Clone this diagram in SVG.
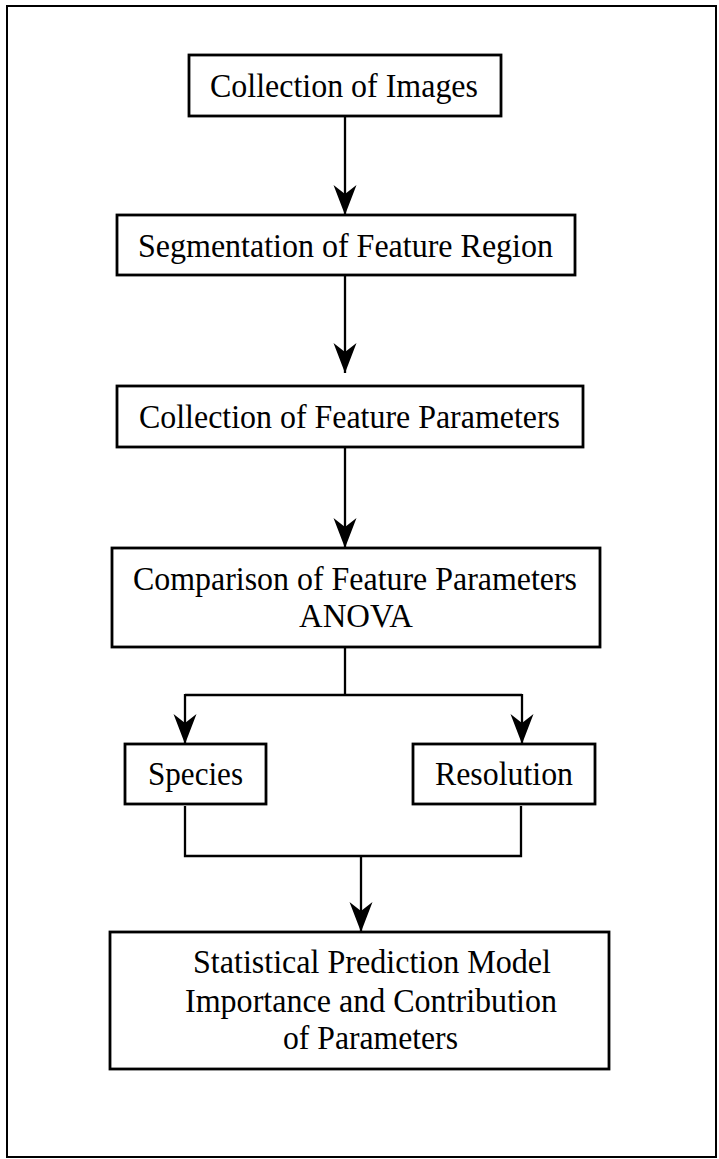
<svg xmlns="http://www.w3.org/2000/svg" width="719" height="1159" viewBox="0 0 719 1159">
<style>
.box{fill:#fff;stroke:#000;stroke-width:2.8}
.lbl{font-family:"Liberation Serif","Times New Roman",serif;font-size:34px;fill:#000;text-anchor:middle}
.con{fill:none;stroke:#000;stroke-width:2.3}
</style>
<defs>
<marker id="ah" markerUnits="userSpaceOnUse" viewBox="-32 -13 33 26" refX="0" refY="0" markerWidth="33" markerHeight="26" orient="auto">
<path d="M0,0 L-30,-11.5 L-21,0 L-30,11.5 Z" fill="#000"/>
</marker>
</defs>
<rect x="0" y="0" width="719" height="1159" fill="#fff"/>
<rect id="frame" x="7" y="6" width="709" height="1151" fill="none" stroke="#000" stroke-width="2"/>
<g id="connectors">
<line class="con" x1="345" y1="117" x2="345" y2="215" marker-end="url(#ah)"/>
<line class="con" x1="345" y1="276" x2="345" y2="373" marker-end="url(#ah)"/>
<line class="con" x1="345" y1="448" x2="345" y2="548" marker-end="url(#ah)"/>
<polyline class="con" points="345,648 345,695"/>
<polyline class="con" points="185,695 522,695"/>
<line class="con" x1="185" y1="694" x2="185" y2="744" marker-end="url(#ah)"/>
<line class="con" x1="522" y1="694" x2="522" y2="744" marker-end="url(#ah)"/>
<polyline class="con" points="185,806 185,856 521,856 521,806"/>
<line class="con" x1="361" y1="856" x2="361" y2="932" marker-end="url(#ah)"/>
</g>
<g id="n1">
<rect class="box" x="189" y="55" width="312" height="61"/>
<text class="lbl" x="344" y="97" textLength="268" lengthAdjust="spacingAndGlyphs">Collection of Images</text>
</g>
<g id="n2">
<rect class="box" x="117" y="215" width="458" height="60"/>
<text class="lbl" x="345.5" y="257" textLength="415" lengthAdjust="spacingAndGlyphs">Segmentation of Feature Region</text>
</g>
<g id="n3">
<rect class="box" x="117" y="386" width="466" height="61"/>
<text class="lbl" x="349.5" y="428" textLength="421" lengthAdjust="spacingAndGlyphs">Collection of Feature Parameters</text>
</g>
<g id="n4">
<rect class="box" x="112" y="548" width="488" height="99"/>
<text class="lbl" x="355" y="590" textLength="444" lengthAdjust="spacingAndGlyphs">Comparison of Feature Parameters</text>
<text class="lbl" x="356" y="627" textLength="114" lengthAdjust="spacingAndGlyphs">ANOVA</text>
</g>
<g id="n5">
<rect class="box" x="125" y="744" width="141" height="60"/>
<text class="lbl" x="195.5" y="785" textLength="95" lengthAdjust="spacingAndGlyphs">Species</text>
</g>
<g id="n6">
<rect class="box" x="413" y="744" width="182" height="60"/>
<text class="lbl" x="504" y="785" textLength="138" lengthAdjust="spacingAndGlyphs">Resolution</text>
</g>
<g id="n7">
<rect class="box" x="110" y="932" width="499" height="137"/>
<text class="lbl" x="372" y="973" textLength="358" lengthAdjust="spacingAndGlyphs">Statistical Prediction Model</text>
<text class="lbl" x="371" y="1012" textLength="372" lengthAdjust="spacingAndGlyphs">Importance and Contribution</text>
<text class="lbl" x="370.5" y="1049" textLength="175" lengthAdjust="spacingAndGlyphs">of Parameters</text>
</g>
</svg>
